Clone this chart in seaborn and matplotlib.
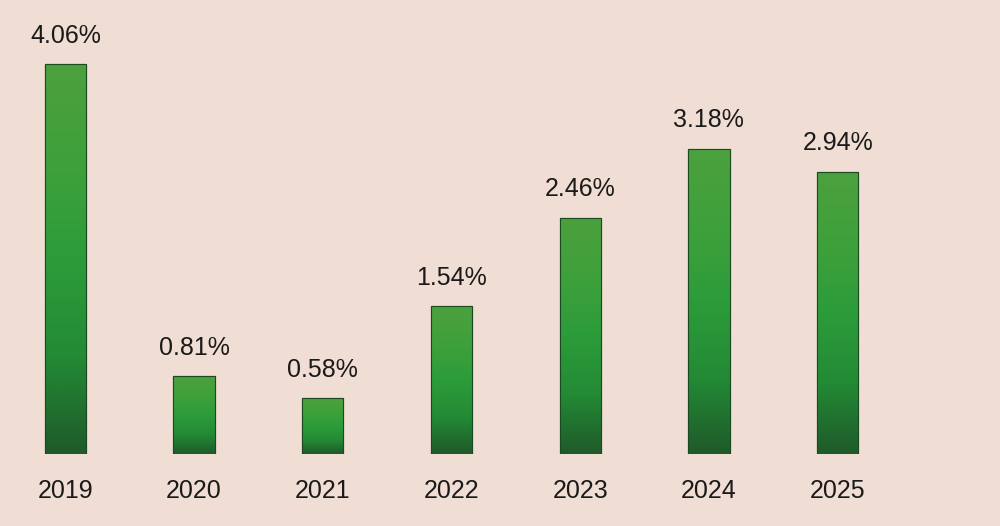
import numpy as np
import pandas as pd
import matplotlib
matplotlib.use("Agg")
import matplotlib.pyplot as plt
import seaborn as sns
from matplotlib.colors import LinearSegmentedColormap

years = ["2019", "2020", "2021", "2022", "2023", "2024", "2025"]
growth = [4.06, 0.81, 0.58, 1.54, 2.46, 3.18, 2.94]
labels = [f"{v:.2f}%" for v in growth]

df = pd.DataFrame({"year": years, "growth": growth})

sns.set_style("white")
plt.rcParams["font.family"] = ["Liberation Sans", "DejaVu Sans"]

bg = "#f0ddd4"
fig = plt.figure(figsize=(10, 5.26), dpi=100, facecolor=bg)
ax = fig.add_axes([0.001, 72 / 526, 0.901, 454 / 526])
ax.set_facecolor(bg)

sns.barplot(data=df, x="year", y="growth", color="#2e9a3a", width=0.32,
            edgecolor="#1b4a22", linewidth=0.8, ax=ax)

# vertical gradient inside each bar: lighter green on top, dark at bottom
cmap = LinearSegmentedColormap.from_list(
    "bar", ["#1f5a2a", "#238a35", "#2c9c3a", "#3fa13b", "#4ca03e"])
grad = np.linspace(0, 1, 256).reshape(-1, 1)
for p in ax.patches:
    x0, y0 = p.get_x(), p.get_y()
    w, h = p.get_width(), p.get_height()
    im = ax.imshow(grad, cmap=cmap, aspect="auto", origin="lower",
                   extent=[x0, x0 + w, y0, y0 + h], zorder=p.get_zorder() + 0.1)
    im.set_clip_path(p)
    ax.add_patch(plt.Rectangle((x0, y0), w, h, fill=False, edgecolor="#1b4a22",
                               linewidth=0.8, zorder=p.get_zorder() + 0.2))

for i, (v, lab) in enumerate(zip(growth, labels)):
    ax.annotate(lab, (i, v), xytext=(0, 12), textcoords="offset points",
                ha="center", va="bottom", fontsize=18, color="#1a1a1a")

ax.set_xlim(-0.5, 6.5)
ax.set_ylim(0, 4.73)
ax.set_xlabel("")
ax.set_ylabel("")
ax.set_yticks([])
ax.tick_params(axis="x", length=0, pad=18, labelsize=18, labelcolor="#1a1a1a")
sns.despine(ax=ax, left=True, bottom=True)

fig.savefig("out.png", dpi=100, facecolor=bg)
